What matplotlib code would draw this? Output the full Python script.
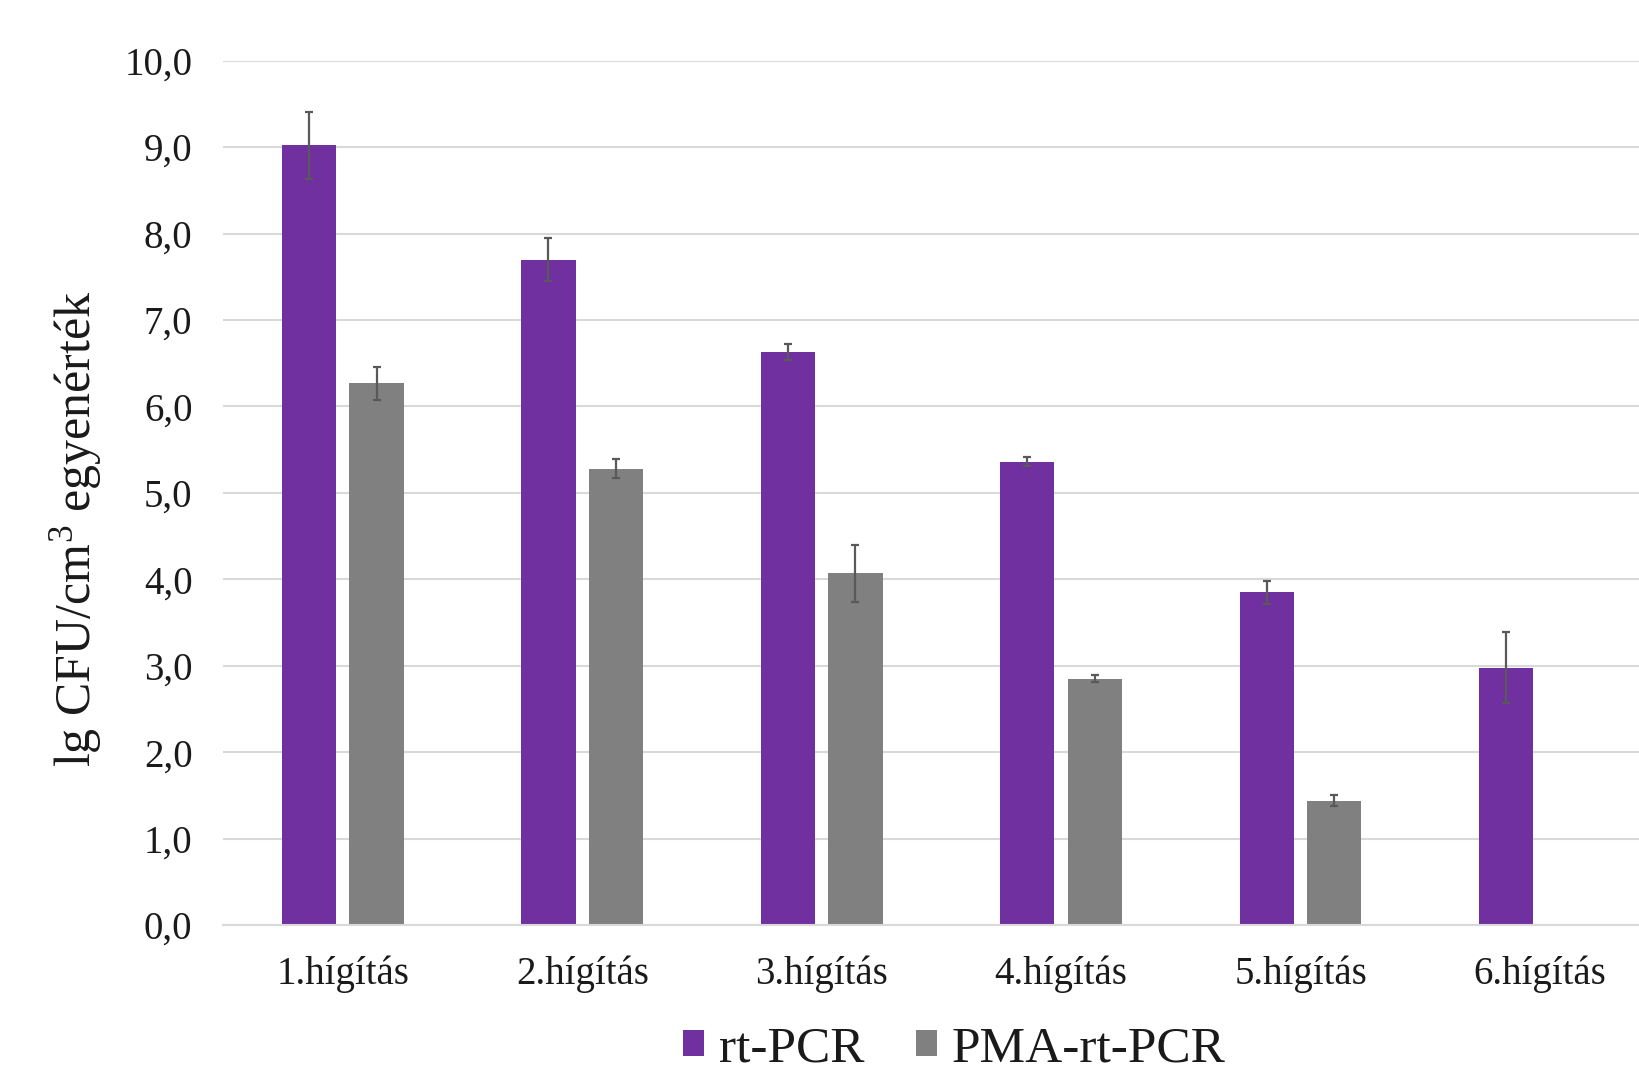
import numpy as np
import matplotlib
matplotlib.use("Agg")
import matplotlib.pyplot as plt

plt.rcParams['font.family'] = ['Liberation Serif', 'DejaVu Serif']
plt.rcParams['mathtext.fontset'] = 'custom'
plt.rcParams['mathtext.rm'] = 'Liberation Serif'
plt.rcParams['mathtext.it'] = 'Liberation Serif:italic'

categories = ["1.hígítás", "2.hígítás", "3.hígítás", "4.hígítás", "5.hígítás", "6.hígítás"]
rt_pcr = [9.02, 7.70, 6.63, 5.36, 3.85, 2.98]
rt_pcr_err = [0.39, 0.25, 0.09, 0.05, 0.13, 0.41]
pma_rt_pcr = [6.27, 5.28, 4.07, 2.85, 1.44, np.nan]
pma_rt_pcr_err = [0.19, 0.11, 0.33, 0.04, 0.06, np.nan]
yticks = [0, 1, 2, 3, 4, 5, 6, 7, 8, 9, 10]
ytick_labels = ["0,0", "1,0", "2,0", "3,0", "4,0", "5,0", "6,0", "7,0", "8,0", "9,0", "10,0"]
series_names = ["rt-PCR", "PMA-rt-PCR"]

purple = "#7030a0"
grey = "#808080"
text_col = "#1a1a1a"

fig = plt.figure(figsize=(16.4, 10.72), dpi=100)
ax = fig.add_axes([0.136, 0.137, 0.876, 0.8064])

x = np.arange(len(categories))
w = 0.227
off = 0.141
b1 = ax.bar(x - off, rt_pcr, w, color=purple, label=series_names[0], zorder=2)
b2 = ax.bar(x + off, pma_rt_pcr, w, color=grey, label=series_names[1], zorder=2)
ax.errorbar(x - off, rt_pcr, yerr=rt_pcr_err, fmt='none', ecolor="#595959",
            elinewidth=1.6, capsize=3, capthick=1.6, zorder=3)
ax.errorbar(x + off, pma_rt_pcr, yerr=pma_rt_pcr_err, fmt='none', ecolor="#595959",
            elinewidth=1.6, capsize=3, capthick=1.6, zorder=3)

ax.set_xlim(-0.5, len(categories) - 0.5)
ax.set_ylim(0, 10)
ax.set_yticks(yticks)
ax.set_yticklabels(ytick_labels, fontsize=28, color=text_col)
ax.set_xticks(x)
ax.set_xticklabels(categories, fontsize=28, color=text_col)
ax.tick_params(axis='both', length=0)
ax.tick_params(axis='y', pad=22)
ax.tick_params(axis='x', pad=22)
ax.grid(axis='y', color="#d9d9d9", linewidth=1.5, zorder=0)
ax.set_axisbelow(True)
for s in ['top', 'right', 'left']:
    ax.spines[s].set_visible(False)
ax.spines['bottom'].set_color("#d9d9d9")
ax.spines['bottom'].set_linewidth(1.5)

ax.set_ylabel("lg CFU/cm$^3$ egyenérték", fontsize=36, color=text_col)
ax.yaxis.set_label_coords(-0.083, 0.459)

fig.legend(handles=[b1, b2], labels=series_names, loc='center', bbox_to_anchor=(0.582, 0.021),
           ncol=2, frameon=False, fontsize=37, handlelength=0.4, handleheight=0.4,
           handletextpad=0.3, columnspacing=1.0, labelcolor=text_col, borderpad=0.1)

fig.savefig("out.png", dpi=100)
